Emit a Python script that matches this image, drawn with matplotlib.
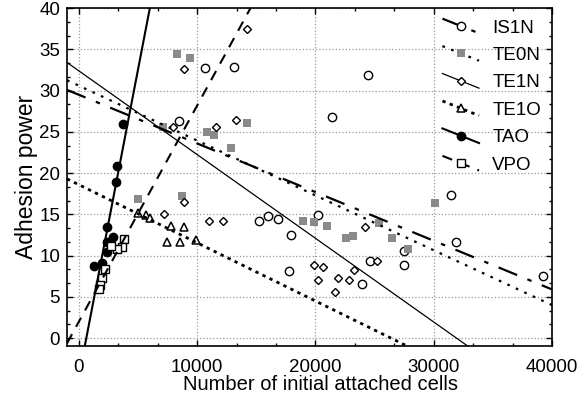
import matplotlib.pyplot as plt
import numpy as np
from matplotlib.ticker import MultipleLocator
from matplotlib.legend_handler import HandlerLine2D

plt.rcParams['font.family'] = ['Liberation Sans', 'DejaVu Sans']

# data (cells, adhesion power)
is1n_x = [8450, 10650, 13080, 15220, 15950, 16850, 17920, 17780, 20230, 21360,
          24460, 24600, 23950, 27470, 27470, 31420, 31870, 39250]
is1n_y = [26.3, 32.8, 32.9, 14.25, 14.8, 14.4, 12.5, 8.15, 14.9, 26.8,
          31.9, 9.3, 6.6, 10.6, 8.9, 17.3, 11.7, 7.5]

te0n_x = [8310, 9380, 7130, 10790, 11410, 14230, 12880, 5010, 8730, 18960,
          19860, 20990, 22570, 23130, 25360, 26480, 27840, 30090]
te0n_y = [34.5, 33.9, 25.65, 25.0, 24.6, 26.1, 23.0, 16.85, 17.2, 14.25,
          14.1, 13.65, 12.1, 12.4, 14.0, 12.1, 10.8, 16.4]

te1n_x = [8880, 13250, 11560, 7970, 14170, 7190, 8880, 10990, 12200, 19860,
          20650, 20170, 21920, 22850, 21640, 23270, 24170, 25220]
te1n_y = [32.6, 26.4, 25.65, 25.65, 37.5, 15.0, 16.5, 14.15, 14.15, 8.9,
          8.6, 7.1, 7.35, 7.0, 5.6, 8.3, 13.45, 9.4]

te1o_x = [4960, 5660, 6000, 7750, 8880, 7410, 8540, 9890]
te1o_y = [15.15, 14.9, 14.6, 13.6, 13.5, 11.6, 11.6, 11.9]

tao_x = [3690, 3190, 3100, 2340, 2900, 2340, 2340, 1920, 1300]
tao_y = [26.0, 20.9, 18.9, 13.5, 12.3, 11.7, 10.5, 9.1, 8.8]

vpo_x = [3800, 3660, 3240, 2700, 2200, 1920, 1780, 1720]
vpo_y = [12.0, 11.1, 10.8, 11.2, 8.4, 7.3, 6.5, 5.9]

# fitted lines as drawn (intercept, slope)
fits = {
    'IS1N': (29.5, -0.00059),
    'TE0N': (30.6, -0.000665),
    'TE1N': (32.4, -0.001015),
    'TE1O': (18.6, -0.000705),
    'TAO': (-4.68, 0.00745),
    'VPO': (2.0, 0.00262),
}

series = [
    ('IS1N', is1n_x, is1n_y, dict(marker='o', ms=6, mfc='white', mec='black', mew=1.0),
     dict(ls=(0, (9, 5, 2, 5)), lw=1.6)),
    ('TE0N', te0n_x, te0n_y, dict(marker='s', ms=6, mfc='#8a8a8a', mec='#8a8a8a', mew=0),
     dict(ls=(0, (1.2, 3)), lw=1.6)),
    ('TE1N', te1n_x, te1n_y, dict(marker='D', ms=4.5, mfc='white', mec='black', mew=1.0),
     dict(ls='-', lw=0.9)),
    ('TE1O', te1o_x, te1o_y, dict(marker='^', ms=6, mfc='white', mec='black', mew=1.1),
     dict(ls=(0, (1.2, 1.6)), lw=2.0)),
    ('TAO', tao_x, tao_y, dict(marker='o', ms=6, mfc='black', mec='black', mew=1.0),
     dict(ls='-', lw=1.5)),
    ('VPO', vpo_x, vpo_y, dict(marker='s', ms=6, mfc='white', mec='black', mew=1.0),
     dict(ls=(0, (5, 4)), lw=1.5)),
]


class SlopedHandler(HandlerLine2D):
    # legend handles drawn as a short falling line, like the original
    def create_artists(self, legend, orig_handle, xdescent, ydescent,
                       width, height, fontsize, trans):
        arts = super().create_artists(legend, orig_handle, xdescent, ydescent,
                                      width, height, fontsize, trans)
        line = arts[0]
        xd = np.asarray(line.get_xdata(), dtype=float)
        yc = (height - ydescent) / 2
        k = 0.2 * (xd[-1] - xd[0])
        line.set_ydata(np.linspace(yc + k, yc - k, len(xd)))
        return arts


fig = plt.figure(figsize=(5.88, 4.08), dpi=100)
ax = fig.add_axes([0.114, 0.153, 0.825, 0.827])

xs = np.array([-1000, 40000])
handles = []
for name, x, y, mk, ln in series:
    ax.plot(x, y, ls='none', zorder=3, **mk)
    b, m = fits[name]
    ax.plot(xs, b + m * xs, color='black', zorder=4, **ln)
    h, = ax.plot([], [], color='black', **ln, **mk)
    handles.append(h)

ax.set_xlim(-1000, 40000)
ax.set_ylim(-0.9, 40)
ax.xaxis.set_major_locator(MultipleLocator(10000))
ax.xaxis.set_minor_locator(MultipleLocator(10000 / 3))
ax.yaxis.set_major_locator(MultipleLocator(5))
ax.yaxis.set_minor_locator(MultipleLocator(5 / 3))
ax.tick_params(which='both', direction='in', top=True, right=True, labelsize=13.5)
ax.tick_params(which='major', length=4, width=1)
ax.tick_params(which='minor', length=2.5, width=1)
ax.tick_params(axis='x', which='major', pad=10)
ax.tick_params(axis='y', which='major', pad=5)
ax.grid(True, which='major', ls=':', color='#999999', lw=0.9)
for s in ax.spines.values():
    s.set_linewidth(1.2)

ax.set_xlabel('Number of initial attached cells', fontsize=14.5, labelpad=-1, x=0.522)
ax.set_ylabel('Adhesion power', fontsize=16.5, labelpad=1)

ax.legend(handles, [s[0] for s in series], loc='upper right', frameon=False,
          fontsize=13.5, handlelength=1.95, handletextpad=0.7, labelspacing=0.55,
          borderaxespad=0.2, handler_map={h: SlopedHandler(numpoints=1) for h in handles})

fig.savefig('out.png', dpi=100)
